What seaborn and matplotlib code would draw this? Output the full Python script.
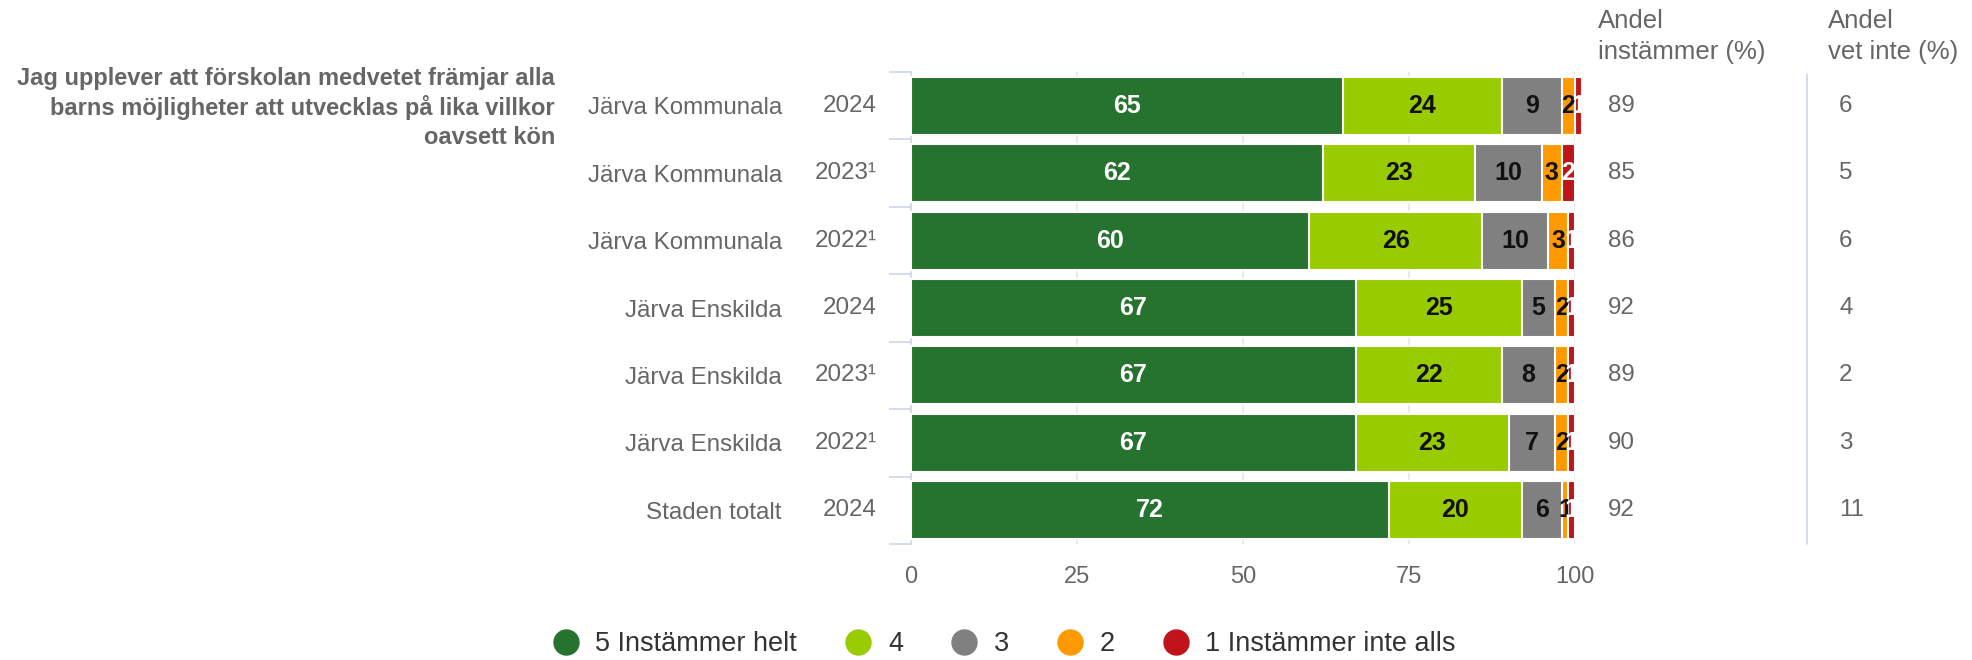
import numpy as np
import pandas as pd
import matplotlib
matplotlib.use("Agg")
import matplotlib.pyplot as plt
import matplotlib.transforms as mtransforms
from matplotlib.lines import Line2D
import seaborn as sns

# ---- data ----
names = ["Järva Kommunala", "Järva Kommunala", "Järva Kommunala",
         "Järva Enskilda", "Järva Enskilda", "Järva Enskilda", "Staden totalt"]
years = ["2024", "2023¹", "2022¹", "2024", "2023¹", "2022¹", "2024"]

s5 = [65, 62, 60, 67, 67, 67, 72]   # 5 Instämmer helt
s4 = [24, 23, 26, 25, 22, 23, 20]   # 4
s3 = [9, 10, 10, 5, 8, 7, 6]        # 3
s2 = [2, 3, 3, 2, 2, 2, 1]          # 2
s1 = [1, 2, 1, 1, 1, 1, 1]          # 1 Instämmer inte alls

agree = [89, 85, 86, 92, 89, 90, 92]       # Andel instämmer (%)
dont_know = [6, 5, 6, 4, 2, 3, 11]         # Andel vet inte (%)

series_names = ["5 Instämmer helt", "4", "3", "2", "1 Instämmer inte alls"]
colors = ["#267330", "#99cc00", "#808080", "#ff9900", "#c0141b"]
label_colors = ["white", "#111111", "#111111", "#111111", "white"]

x_ticks = [0, 25, 50, 75, 100]
question = ["Jag upplever att förskolan medvetet främjar alla",
            "barns möjligheter att utvecklas på lika villkor",
            "oavsett kön"]

# ---- style ----
sns.set_theme(style="white")
plt.rcParams["font.family"] = ["Liberation Sans", "DejaVu Sans"]
GREY = "#666666"
AXIS = "#ccd6eb"

W, H = 1972, 660
fig = plt.figure(figsize=(W / 100, H / 100), dpi=100)
ax = fig.add_axes([911 / W, 1 - 544 / H, 664 / W, 472 / H])

rows = [f"{n} {y}" for n, y in zip(names, years)]
vals = np.array([s5, s4, s3, s2, s1], dtype=float)
cum = np.cumsum(vals, axis=0)

# stacked bars: widest cumulative total first, each narrower total on top
for i in reversed(range(len(series_names))):
    df = pd.DataFrame({"row": rows, "end": cum[i]})
    sns.barplot(data=df, y="row", x="end", order=rows, orient="h",
                color=colors[i], saturation=1, width=0.86,
                edgecolor="white", linewidth=1.5, errorbar=None,
                zorder=3, clip_on=False, ax=ax)

# segment value labels
for i in range(len(series_names)):
    for j in range(len(rows)):
        v = vals[i, j]
        ax.text(cum[i, j] - v / 2, j, f"{int(v)}", ha="center", va="center",
                fontsize=18, fontweight="bold", color=label_colors[i],
                zorder=5, clip_on=False)

# axes
ax.set_xlim(0, 100)
ax.set_ylim(len(rows) - 0.5, -0.5)
ax.set_xticks(x_ticks)
ax.set_xticklabels([str(t) for t in x_ticks])
ax.grid(axis="x", color="#e6e6e6", linewidth=1.2, zorder=0)
ax.grid(axis="y", visible=False)
ax.set_axisbelow(True)
ax.set_xlabel("")
ax.set_ylabel("")
for side in ["top", "right", "bottom"]:
    ax.spines[side].set_visible(False)
ax.spines["left"].set_color(AXIS)
ax.spines["left"].set_linewidth(1.2)
ax.tick_params(axis="x", length=0, pad=16, labelsize=17, labelcolor=GREY)

ax.set_yticks(range(len(rows)))
ax.set_yticklabels(names)
ax.set_yticks(np.arange(-0.5, len(rows), 1), minor=True)
ax.tick_params(axis="y", which="major", length=0, pad=93, labelsize=17.4,
               labelcolor=GREY)
ax.tick_params(axis="y", which="minor", length=15.5, width=1.2, color=AXIS,
               left=True)

blend = mtransforms.blended_transform_factory(ax.transAxes, ax.transData)
for j, y in enumerate(years):
    ax.text(-0.0512, j, y, transform=blend, ha="right", va="center",
            fontsize=17.4, color=GREY)

# side columns
for j in range(len(rows)):
    ax.text(1.0497, j, f"{agree[j]}", transform=blend, ha="left", va="center",
            fontsize=17.4, color=GREY)
    ax.text(1.3976, j, f"{dont_know[j]}", transform=blend, ha="left",
            va="center", fontsize=17.4, color=GREY)
ax.plot([1.349, 1.349], [0, 0.996], transform=ax.transAxes, clip_on=False,
        color=AXIS, linewidth=1.2)

fig.text(1598 / W, 1 - 28 / H, "Andel", ha="left", va="baseline",
         fontsize=18.5, color=GREY)
fig.text(1598 / W, 1 - 59 / H, "instämmer (%)", ha="left", va="baseline",
         fontsize=18.5, color=GREY)
fig.text(1828 / W, 1 - 28 / H, "Andel", ha="left", va="baseline",
         fontsize=18.5, color=GREY)
fig.text(1828 / W, 1 - 59 / H, "vet inte (%)", ha="left", va="baseline",
         fontsize=18.5, color=GREY)

# question title
for k, line in enumerate(question):
    fig.text(555 / W, 1 - (85 + 29.5 * k) / H, line, ha="right",
             va="baseline", fontsize=17, fontweight="bold", color=GREY)

# legend
handles = [Line2D([0], [0], marker="o", linestyle="none", markersize=18,
                  markerfacecolor=c, markeredgecolor=c) for c in colors]
fig.legend(handles, series_names, loc="center",
           bbox_to_anchor=(1004 / W, 1 - 644 / H), ncol=5, frameon=False,
           fontsize=19.5, labelcolor="#333333", handlelength=1.0,
           handletextpad=0.6, columnspacing=1.75, borderpad=0, borderaxespad=0)

fig.savefig("out.png", dpi=100)
